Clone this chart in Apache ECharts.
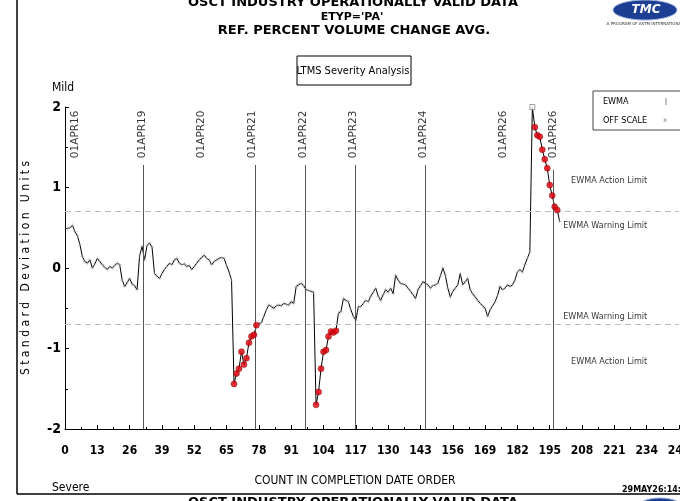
<!DOCTYPE html>
<html><head><meta charset="utf-8">
<script src="https://cdn.jsdelivr.net/npm/echarts@6/dist/echarts.min.js"></script>
<style>html,body{margin:0;padding:0;background:#fff;overflow:hidden}#c{width:680px;height:501px}</style>
</head><body><div id="c"></div>
<script>
// EWMA standard deviation units, by count in completion date order (count 1..199)
const ewma = [
  0.49,0.50,0.53,0.45,0.40,0.29,0.14,0.08,0.06,0.10,
  0.00,0.05,0.12,0.08,0.04,0.01,-0.02,0.02,0.00,0.03,
  0.06,0.04,-0.15,-0.23,-0.18,-0.13,-0.20,-0.22,-0.27,0.15,
  0.27,0.10,0.28,0.31,0.26,-0.07,-0.10,-0.13,-0.07,-0.02,
  0.02,0.06,0.04,0.10,0.12,0.06,0.04,0.05,0.02,0.03,
  -0.02,0.02,0.06,0.10,0.13,0.16,0.12,0.10,0.04,0.08,
  0.10,0.12,0.13,0.12,0.03,-0.05,-0.15,-1.44,-1.31,-1.25,
  -1.04,-1.20,-1.12,-0.93,-0.85,-0.83,-0.71,-0.69,-0.68,-0.60,
  -0.52,-0.46,-0.48,-0.50,-0.47,-0.46,-0.47,-0.44,-0.45,-0.46,
  -0.42,-0.44,-0.23,-0.21,-0.19,-0.22,-0.27,-0.28,-0.29,-0.30,
  -1.70,-1.54,-1.25,-1.04,-1.02,-0.85,-0.79,-0.80,-0.78,-0.56,
  -0.54,-0.38,-0.40,-0.42,-0.52,-0.60,-0.65,-0.48,-0.48,-0.44,
  -0.40,-0.42,-0.35,-0.30,-0.25,-0.35,-0.40,-0.33,-0.27,-0.30,
  -0.25,-0.32,-0.09,-0.15,-0.19,-0.20,-0.21,-0.25,-0.29,-0.33,
  -0.38,-0.27,-0.22,-0.17,-0.19,-0.21,-0.25,-0.22,-0.21,-0.19,
  -0.10,0.00,-0.09,-0.25,-0.36,-0.29,-0.25,-0.21,-0.07,-0.21,
  -0.17,-0.13,-0.27,-0.32,-0.36,-0.40,-0.44,-0.47,-0.50,-0.60,
  -0.52,-0.47,-0.42,-0.34,-0.23,-0.27,-0.25,-0.21,-0.23,-0.21,
  -0.15,-0.05,-0.02,-0.05,0.04,0.12,0.20,2.00,1.75,1.65,
  1.63,1.47,1.35,1.24,1.03,0.90,0.76,0.72,0.58
];
const offScaleCounts = [188];
const warningLimit = 0.7;
const dateLabels = ['01APR16','01APR19','01APR20','01APR21','01APR22','01APR23','01APR24','01APR26','01APR26'];
const dateLabelCounts = [4, 31.1, 55, 75.3, 96, 116.1, 144.3, 176.4, 196.4];
const dateLabelLevel = 1.66;
const dateLineCounts = [31.4, 76.5, 96.6, 116.7, 144.9, 196.4];
const dateLineTops = [1.28, 1.28, 1.28, 1.28, 1.28, 1.22];
const limitTexts = ['EWMA Action Limit','EWMA Warning Limit','EWMA Warning Limit','EWMA Action Limit'];
const limitTextCounts = [218.9, 217.3, 217.3, 218.9];
const limitTextLevels = [1.09, 0.52, -0.60, -1.16];
const xMin = 0, xMax = 247, xStep = 13;
const yMin = -2, yMax = 2, yStep = 1;

const NARROW = "'Liberation Sans Narrow','DejaVu Sans Condensed','Arial Narrow',sans-serif";
const pts = ewma.map((v, i) => [i + 1, v]);
const lineData = pts.map(p => offScaleCounts.includes(p[0]) ? {value: p, symbol: 'none'} : p);
const redData = pts.filter(p => !offScaleCounts.includes(p[0]) && Math.abs(p[1]) > warningLimit);
const offData = pts.filter(p => offScaleCounts.includes(p[0]));

const chart = echarts.init(document.getElementById('c'));
chart.setOption({
  animation: false,
  grid: {left: 65, right: 1, top: 107, bottom: 72, containLabel: false, outerBoundsMode: 'none'},
  xAxis: {
    type: 'value', min: xMin, max: xMax, interval: xStep,
    axisLine: {onZero: false, lineStyle: {color: '#000', width: 1}},
    axisTick: {show: true, inside: true, length: 4, lineStyle: {color: '#000'}},
    minorTick: {show: true, splitNumber: 2, length: 2, lineStyle: {color: '#000'}},
    splitLine: {show: false},
    axisLabel: {color: '#000', fontFamily: NARROW, fontWeight: 'bold', fontSize: 12, margin: 16,
      showMinLabel: true, showMaxLabel: true}
  },
  yAxis: {
    type: 'value', min: yMin, max: yMax, interval: yStep,
    name: 'S t a n d a r d   D e v i a t i o n   U n i t s',
    nameLocation: 'middle', nameRotate: 90, nameGap: 33,
    nameTextStyle: {color: '#000', fontFamily: NARROW, fontSize: 12},
    axisLine: {show: true, onZero: false, lineStyle: {color: '#000', width: 1}},
    axisTick: {show: true, inside: true, length: 4, lineStyle: {color: '#000'}},
    minorTick: {show: true, splitNumber: 2, length: 3, lineStyle: {color: '#000'}},
    splitLine: {show: false},
    axisLabel: {color: '#000', fontFamily: NARROW, fontWeight: 'bold', fontSize: 14, margin: 4}
  },
  series: [
    {
      type: 'line', data: lineData, z: 3,
      symbol: 'path://M0,4.5h10v1h-10zM4.5,0h1v10h-1z', symbolSize: 4, showAllSymbol: true,
      itemStyle: {color: '#9a9a9a'},
      lineStyle: {color: '#000', width: 1},
      markLine: {
        silent: true, symbol: 'none', label: {show: false},
        data: [
          {yAxis: warningLimit, lineStyle: {color: '#bdbdbd', type: [6, 4], width: 1}},
          {yAxis: -warningLimit, lineStyle: {color: '#bdbdbd', type: [6, 4], width: 1}}
        ].concat(dateLineCounts.map((c, i) => [
          {coord: [c, dateLineTops[i]], lineStyle: {color: '#555', type: 'solid', width: 1}},
          {coord: [c, yMin]}
        ]))
      }
    },
    {
      type: 'scatter', data: redData, z: 5,
      symbol: 'circle', symbolSize: 6,
      itemStyle: {color: '#e8000b', borderColor: '#700', borderWidth: 0.6}
    },
    {
      type: 'scatter', data: offData, z: 6,
      symbol: 'rect', symbolSize: 5,
      itemStyle: {color: '#fff', borderColor: '#888', borderWidth: 1}
    },
    {
      type: 'scatter', z: 4, symbol: 'circle', symbolSize: 0, itemStyle: {color: 'rgba(0,0,0,0)'}, silent: true,
      data: dateLabels.map((t, i) => ({name: t, value: [dateLabelCounts[i], dateLabelLevel]})),
      label: {show: true, position: 'inside', rotate: 90, formatter: '{b}', color: '#000',
        fontFamily: 'DejaVu Sans', fontSize: 10.5}
    },
    {
      type: 'scatter', z: 4, symbol: 'circle', symbolSize: 0, itemStyle: {color: 'rgba(0,0,0,0)'}, silent: true,
      data: limitTexts.map((t, i) => ({name: t, value: [limitTextCounts[i], limitTextLevels[i]]})),
      label: {show: true, position: 'inside', formatter: '{b}', color: '#000',
        fontFamily: NARROW, fontSize: 9}
    }
  ],
  graphic: [
    {type: 'text', x: 353, y: 3, style: {text: 'OSCT INDUSTRY OPERATIONALLY VALID DATA', fill: '#000',
      font: "bold 13px 'DejaVu Sans'", textAlign: 'center', textVerticalAlign: 'middle'}},
    {type: 'text', x: 352, y: 17, style: {text: "ETYP='PA'", fill: '#000',
      font: "bold 11px 'DejaVu Sans'", textAlign: 'center', textVerticalAlign: 'middle'}},
    {type: 'text', x: 354, y: 31, style: {text: 'REF. PERCENT VOLUME CHANGE AVG.', fill: '#000',
      font: "bold 13px 'DejaVu Sans'", textAlign: 'center', textVerticalAlign: 'middle'}},
    // logo
    {type: 'ellipse', shape: {cx: 645, cy: 10, rx: 32, ry: 10}, style: {fill: '#1d3f93', stroke: '#9fb3dd', lineWidth: 1}},
    {type: 'text', x: 646, y: 10, style: {text: 'TMC', fill: '#fff', font: "italic bold 12px 'DejaVu Sans'",
      textAlign: 'center', textVerticalAlign: 'middle'}},
    {type: 'text', x: 645, y: 24, style: {text: 'A PROGRAM OF ASTM INTERNATIONAL', fill: '#333',
      font: "4px 'DejaVu Sans'", textAlign: 'center', textVerticalAlign: 'middle'}},
    // LTMS box
    {type: 'rect', shape: {x: 297, y: 56, width: 114, height: 29}, style: {fill: '#fff', stroke: '#000', lineWidth: 1}},
    {type: 'text', x: 353, y: 71, style: {text: 'LTMS Severity Analysis', fill: '#000',
      font: "11px " + NARROW, textAlign: 'center', textVerticalAlign: 'middle'}},
    {type: 'text', x: 52, y: 88, style: {text: 'Mild', fill: '#000', font: "12px " + NARROW, textVerticalAlign: 'middle'}},
    {type: 'text', x: 52, y: 488, style: {text: 'Severe', fill: '#000', font: "12px " + NARROW, textVerticalAlign: 'middle'}},
    {type: 'text', x: 355, y: 481, style: {text: 'COUNT IN COMPLETION DATE ORDER', fill: '#000',
      font: "12px " + NARROW, textAlign: 'center', textVerticalAlign: 'middle'}},
    // legend box
    {type: 'rect', shape: {x: 593, y: 91, width: 90, height: 39}, style: {fill: 'none', stroke: '#444', lineWidth: 1}},
    {type: 'text', x: 603, y: 102, style: {text: 'EWMA', fill: '#000', font: "9px " + NARROW, textVerticalAlign: 'middle'}},
    {type: 'line', shape: {x1: 666, y1: 98, x2: 666, y2: 105}, style: {stroke: '#888', lineWidth: 1}},
    {type: 'text', x: 603, y: 121, style: {text: 'OFF SCALE', fill: '#000', font: "9px " + NARROW, textVerticalAlign: 'middle'}},
    {type: 'text', x: 665, y: 120, style: {text: 'x', fill: '#888', font: "7px 'DejaVu Sans'", textAlign: 'center', textVerticalAlign: 'middle'}},
    // page frame
    {type: 'line', shape: {x1: 17, y1: 0, x2: 17, y2: 494}, style: {stroke: '#000', lineWidth: 1.5}},
    {type: 'line', shape: {x1: 17, y1: 494, x2: 680, y2: 494}, style: {stroke: '#000', lineWidth: 1.5}},
    {type: 'text', x: 622, y: 490, style: {text: '29MAY26:14:', fill: '#000', font: "bold 8px 'DejaVu Sans'", textVerticalAlign: 'middle'}},
    {type: 'text', x: 353, y: 503, style: {text: 'OSCT INDUSTRY OPERATIONALLY VALID DATA', fill: '#000',
      font: "bold 13px 'DejaVu Sans'", textAlign: 'center', textVerticalAlign: 'middle'}},
    {type: 'ellipse', shape: {cx: 660, cy: 507, rx: 22, ry: 9}, style: {fill: '#1d3f93', stroke: '#9fb3dd', lineWidth: 1}}
  ]
});
</script>
</body></html>
